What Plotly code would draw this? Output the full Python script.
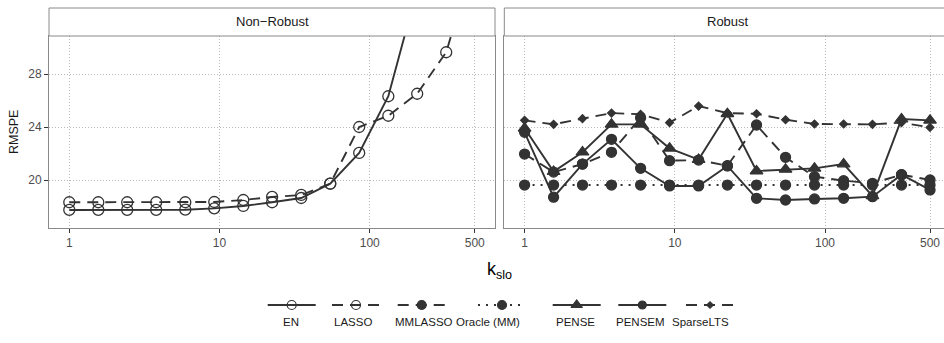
import plotly.graph_objects as go

# ---------------- data ----------------
k_slo = [1, 1.56, 2.43, 3.79, 5.92, 9.23, 14.4, 22.4, 35.0, 54.6, 85.1, 133, 207, 323, 500]

# Non-Robust panel
en = [17.74, 17.74, 17.74, 17.74, 17.76, 17.86, 18.04, 18.32, 18.64, 19.72, 22.04, 26.32, 34.4, 45.0, 60.0]
lasso = [18.32, 18.32, 18.32, 18.32, 18.32, 18.34, 18.49, 18.72, 18.87, 19.72, 24.0, 24.85, 26.51, 29.64, 36.9]

# Robust panel
mmlasso = [21.96, 20.6, 21.2, 22.09, 24.7, 21.46, 21.5, 21.08, 24.15, 21.71, 20.25, 19.95, 19.75, 20.4, 20.0]
oracle_mm = [19.62, 19.62, 19.62, 19.62, 19.62, 19.62, 19.62, 19.62, 19.62, 19.62, 19.62, 19.62, 19.62, 19.62, 19.62]
pense = [23.9, 20.63, 22.1, 24.2, 24.2, 22.39, 21.54, 25.0, 20.68, 20.8, 20.88, 21.2, 18.8, 24.6, 24.5]
pensem = [23.6, 18.7, 21.2, 23.07, 20.88, 19.55, 19.55, 21.06, 18.62, 18.49, 18.57, 18.62, 18.74, 20.4, 19.25]
sparselts = [24.5, 24.2, 24.63, 25.05, 24.96, 24.33, 25.58, 25.05, 25.0, 24.55, 24.23, 24.23, 24.2, 24.33, 23.97]

x_tick_vals = [1, 10, 100, 500]
x_tick_text = ["1", "10", "100", "500"]
y_tick_vals = [20, 24, 28]
y_tick_text = ["20", "24", "28"]

panel_labels = ["Non\u2212Robust", "Robust"]
method_names = ["EN", "LASSO", "MMLASSO", "Oracle (MM)", "PENSE", "PENSEM", "SparseLTS"]

# ---------------- styles ----------------
INK = "#333333"
W, H = 944, 343
DASH = "11px,7px"
DOT = "2px,6px"
styles = {
    "EN": dict(dash="solid", symbol="circle-open", size=11, lsize=9),
    "LASSO": dict(dash=DASH, symbol="circle-open", size=11, lsize=9),
    "MMLASSO": dict(dash=DASH, symbol="circle", size=10, lsize=9),
    "Oracle (MM)": dict(dash=DOT, symbol="circle", size=10, lsize=9),
    "PENSE": dict(dash="solid", symbol="triangle-up", size=11, lsize=10),
    "PENSEM": dict(dash="solid", symbol="circle", size=10, lsize=8),
    "SparseLTS": dict(dash=DASH, symbol="diamond", size=6, lsize=5),
}

panels = [
    ("x", "y", [("EN", en), ("LASSO", lasso)]),
    ("x2", "y2", [("MMLASSO", mmlasso), ("Oracle (MM)", oracle_mm), ("PENSE", pense),
                  ("PENSEM", pensem), ("SparseLTS", sparselts)]),
]

fig = go.Figure()
for xa, ya, series in panels:
    for name, vals in series:
        st = styles[name]
        fig.add_trace(go.Scatter(
            x=k_slo, y=vals, xaxis=xa, yaxis=ya, mode="lines+markers", name=name,
            showlegend=False,
            line=dict(color=INK, width=1.9, dash=st["dash"]),
            marker=dict(color=INK, symbol=st["symbol"], size=st["size"],
                        line=dict(color=INK, width=1.3)),
        ))


def px_x(p):
    return p / W


def px_y(p):
    return 1 - p / H


# geometry (pixels)
top_strip, top_panel, bottom_panel = 8, 36, 228
left_dom = (49, 495)
right_dom = (504.3, W)
decade_px = (left_dom[1] - left_dom[0]) / (2.834 + 0.135)
right_end = -0.135 + (right_dom[1] - right_dom[0]) / decade_px
leg_top, leg_bottom = 290, 332

grid = dict(showgrid=True, gridcolor="#b8b8b8", gridwidth=1, griddash="1px,2px", zeroline=False)
tickfont = dict(family="Liberation Sans, Arial, sans-serif", size=12, color="#4d4d4d")
border = "#8a8a8a"

fig.update_layout(
    width=W, height=H, margin=dict(l=0, r=0, t=0, b=0),
    paper_bgcolor="white", plot_bgcolor="rgba(0,0,0,0)",
    font=dict(family="Liberation Sans, Arial, sans-serif", color="#1a1a1a"),
    showlegend=False,
    xaxis=dict(domain=[px_x(left_dom[0]), px_x(left_dom[1])], type="log", range=[-0.135, 2.834],
               tickvals=x_tick_vals, ticktext=x_tick_text, ticks="outside", ticklen=4,
               tickcolor="#333333", tickfont=tickfont, showline=True, mirror=True,
               linecolor=border, linewidth=1, anchor="y", **grid),
    yaxis=dict(domain=[px_y(bottom_panel), px_y(top_panel)], range=[16.377, 30.868],
               tickvals=y_tick_vals, ticktext=y_tick_text, ticks="outside", ticklen=4,
               tickcolor="#333333", tickfont=tickfont, showline=True, mirror=True,
               linecolor=border, linewidth=1, anchor="x", **grid),
    xaxis2=dict(domain=[px_x(right_dom[0]), 1.0], type="log", range=[-0.135, right_end],
                tickvals=x_tick_vals, ticktext=x_tick_text, ticks="outside", ticklen=4,
                tickcolor="#333333", tickfont=tickfont, showline=True, mirror=True,
                linecolor=border, linewidth=1, anchor="y2", **grid),
    yaxis2=dict(domain=[px_y(bottom_panel), px_y(top_panel)], range=[16.377, 30.868],
                tickvals=y_tick_vals, showticklabels=False, ticks="",
                showline=True, mirror=False, linecolor=border, linewidth=1, anchor="x2", **grid),
    xaxis3=dict(domain=[0, 1], range=[0, W], visible=False, anchor="y3", fixedrange=True),
    yaxis3=dict(domain=[px_y(leg_bottom), px_y(leg_top)], range=[leg_bottom, leg_top],
                visible=False, anchor="x3", fixedrange=True),
)

# strips
for (x0, x1), label in zip([left_dom, (right_dom[0], W + 8)], panel_labels):
    fig.add_shape(type="rect", xref="paper", yref="paper",
                  x0=px_x(x0), x1=px_x(x1), y0=px_y(top_panel), y1=px_y(top_strip),
                  fillcolor="white", line=dict(color=border, width=1))
strip_text_x = [(left_dom[0] + left_dom[1]) / 2, (right_dom[0] + 950.8) / 2]
for cx, label in zip(strip_text_x, panel_labels):
    fig.add_annotation(text=label, xref="paper", yref="paper", x=px_x(cx),
                       y=px_y((top_strip + top_panel) / 2), showarrow=False,
                       font=dict(size=13, color="#1a1a1a"), xanchor="center", yanchor="middle")

# axis titles
fig.add_annotation(text="RMSPE", xref="paper", yref="paper", x=px_x(14.5), y=px_y(132.5),
                   textangle=-90, showarrow=False, font=dict(size=12.5, color="#1a1a1a"),
                   xanchor="center", yanchor="middle")
fig.add_annotation(text="k<sub>slo</sub>", xref="paper", yref="paper", x=px_x(499), y=px_y(270),
                   showarrow=False, font=dict(size=18, color="#000000"),
                   xanchor="center", yanchor="middle")

# custom legend (keys above labels, ggplot style)
key_centers = [291.7, 356, 421.7, 502, 576.7, 642.3, 710]
label_centers = [291, 352.7, 423.7, 488, 575, 640.7, 700.7]
key_y, label_y, key_half = 305, 322, 24
for name, kc, lc in zip(method_names, key_centers, label_centers):
    st = styles[name]
    fig.add_trace(go.Scatter(x=[kc - key_half, kc + key_half], y=[key_y, key_y], xaxis="x3", yaxis="y3",
                             mode="lines", showlegend=False, hoverinfo="skip",
                             line=dict(color=INK, width=1.9, dash=st["dash"])))
    fig.add_trace(go.Scatter(x=[kc], y=[key_y], xaxis="x3", yaxis="y3", mode="markers",
                             showlegend=False, hoverinfo="skip", cliponaxis=False,
                             marker=dict(color=INK, symbol=st["symbol"], size=st["lsize"],
                                         line=dict(color=INK, width=1.2))))
    fig.add_annotation(text=name, xref="paper", yref="paper", x=px_x(lc), y=px_y(label_y),
                       showarrow=False, font=dict(size=11.5, color="#1a1a1a"),
                       xanchor="center", yanchor="middle")

fig.write_html("out.html")
